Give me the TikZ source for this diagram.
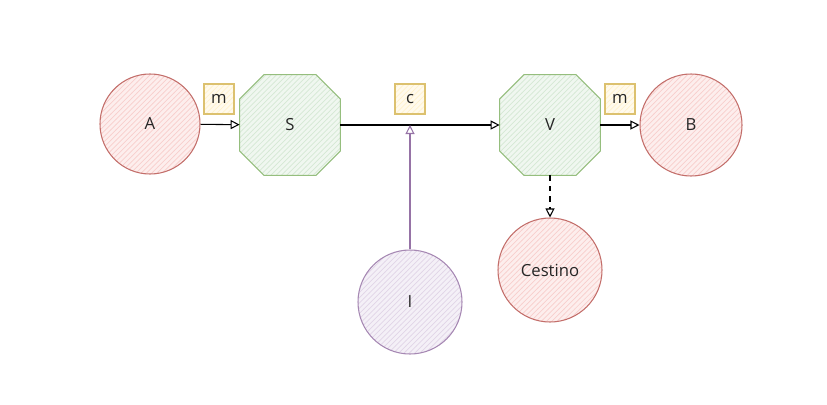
\documentclass[tikz,border=0pt]{standalone}
\usepackage{fontspec}
\setmainfont{Open Sans}
\usetikzlibrary{patterns,arrows.meta,backgrounds}
\definecolor{redline}{HTML}{B85450}\definecolor{redfill}{HTML}{F8CECC}
\definecolor{greenline}{HTML}{82B366}\definecolor{greenfill}{HTML}{D5E8D4}
\definecolor{yellowline}{HTML}{D6B656}\definecolor{yellowfill}{HTML}{FFF2CC}
\definecolor{purpleline}{HTML}{9673A6}\definecolor{purplefill}{HTML}{E1D5E7}
\tikzset{
	hatch/.style 2 args={draw=#1!85!white, line width=0.6pt, preaction={fill=#2!35!white},
		pattern=north east lines, pattern color=#2},
	ball/.style={circle, hatch={redline}{redfill}, minimum size=2.04cm, inner sep=0pt},
	octa/.style={rectangle, minimum width=2cm, minimum height=2cm, inner sep=0pt},
	tag/.style={rectangle, hatch={yellowline}{yellowfill}, minimum size=0.6cm, inner sep=0pt},
	flow/.style={-{Triangle[open,length=1.8mm,width=1.8mm]}, line width=0.6pt}
}
\begin{document}
\begin{tikzpicture}[font=\fontsize{9.5}{11}\selectfont, text=black!85]
		\useasboundingbox (0,0) rectangle (16.54,-8.08);
		\node[ball, minimum size=2cm] (A) at (3.0,-2.48) {A};
		\node[octa] (S) at (5.8,-2.5) {S};
		\node[octa] (V) at (11.0,-2.5) {V};
		\node[ball] (B) at (13.82,-2.5) {B};
		\node[ball, minimum size=2.08cm] (Cestino) at (11.0,-5.4) {Cestino};
		\node[circle, hatch={purpleline}{purplefill}, minimum size=2.08cm] (I) at (8.2,-6.04) {I};
		\node[tag] (m1) at (4.38,-1.98) {m};
		\node[tag] (c) at (8.2,-1.98) {c};
		\node[tag] (m2) at (12.4,-1.98) {m};
		% octagon outlines behind S and V
		\begin{pgfonlayer}{background}
			\foreach \n in {S,V}
				\draw[hatch={greenline}{greenfill}] ([xshift=-.52cm]\n.north) -- ([xshift=.52cm]\n.north)
					-- ([yshift=.52cm]\n.east) -- ([yshift=-.52cm]\n.east) -- ([xshift=.52cm]\n.south)
					-- ([xshift=-.52cm]\n.south) -- ([yshift=-.52cm]\n.west) -- ([yshift=.52cm]\n.west) -- cycle;
		\end{pgfonlayer}
		\coordinate (join) at (I |- S);
		\draw[flow] (A) -- (S);
		\draw[flow] (S) -- (V);
		\draw[flow] (V) -- (B);
		\draw[flow, dashed] (V) -- (Cestino);
		\draw[flow, draw=purpleline] (I) -- (join);
	\end{tikzpicture}
\end{document}
